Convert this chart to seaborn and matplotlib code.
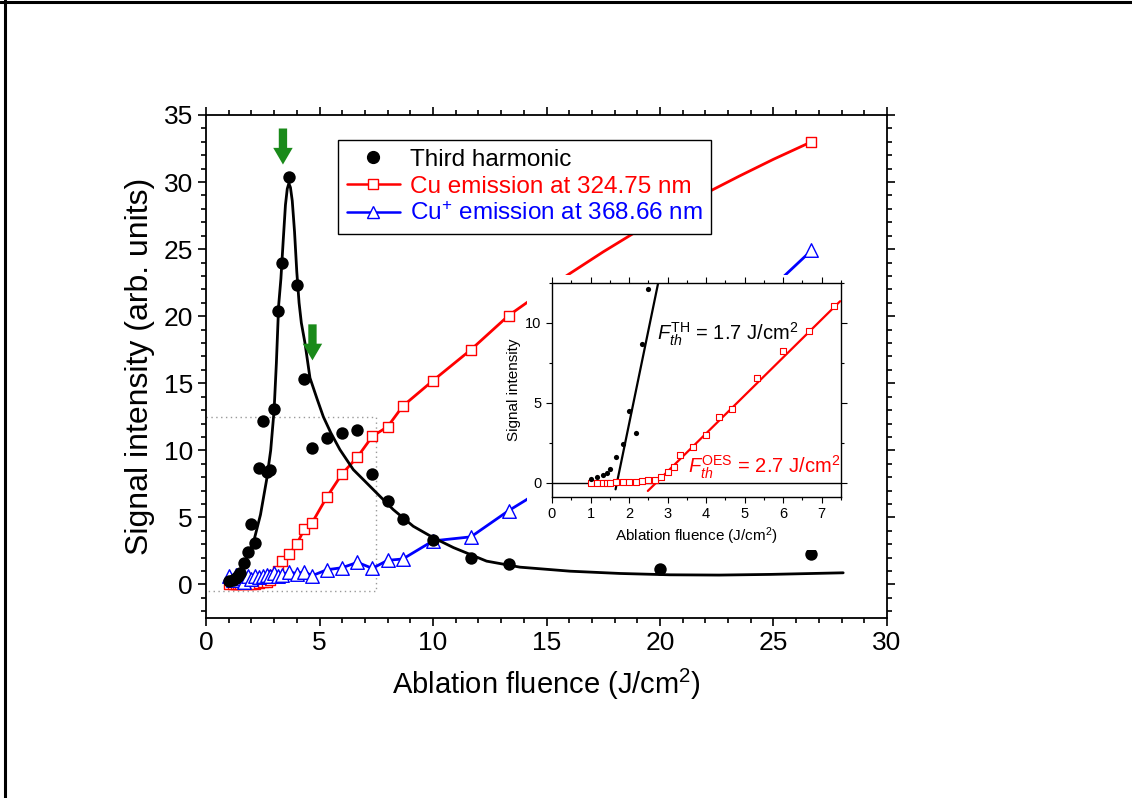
import numpy as np
import pandas as pd
import matplotlib
matplotlib.use('Agg')
import matplotlib.pyplot as plt
import seaborn as sns
from matplotlib.lines import Line2D
from matplotlib.patches import Rectangle
from matplotlib.ticker import MultipleLocator

sns.set_theme(style='ticks')
plt.rcParams['font.family'] = ['Liberation Sans', 'DejaVu Sans']
plt.rcParams['mathtext.fontset'] = 'custom'
plt.rcParams['mathtext.rm'] = 'Liberation Sans'
plt.rcParams['mathtext.it'] = 'Liberation Sans:italic'
plt.rcParams['mathtext.bf'] = 'Liberation Sans:bold'

# ---------------- data ----------------
# Third harmonic (black dots)
th_x = [1.0, 1.17, 1.33, 1.42, 1.5, 1.67, 1.83, 2.0, 2.17, 2.33, 2.5, 2.67, 2.83,
        3.0, 3.17, 3.33, 3.67, 4.0, 4.33, 4.67, 5.33, 6.0, 6.67, 7.33, 8.0, 8.67,
        10.0, 11.67, 13.33, 20.0, 26.67]
th_y = [0.23, 0.36, 0.5, 0.61, 0.84, 1.6, 2.4, 4.5, 3.1, 8.65, 12.15, 8.4, 8.56,
        13.05, 20.4, 24.0, 30.4, 22.3, 15.3, 10.2, 10.95, 11.27, 11.5, 8.27, 6.2, 4.9,
        3.3, 1.98, 1.54, 1.17, 2.26]

# fit curve through third harmonic
fit_x = [0.93, 1.2, 1.5, 1.8, 2.1, 2.4, 2.67, 2.85, 3.0, 3.1, 3.2, 3.3, 3.4, 3.5,
         3.58, 3.65, 3.72, 3.8, 3.9, 4.0, 4.1, 4.2, 4.36, 4.58, 4.9, 5.17, 5.5, 5.9,
         6.49, 7.0, 7.37, 8.25, 9.13, 10.0, 10.9, 12.36, 13.83, 16.04, 18.24, 20.44,
         22.6, 24.85, 28.07]
fit_y = [-0.1, 0.4, 1.1, 2.0, 3.2, 5.2, 7.8, 10.0, 13.0, 16.5, 20.8, 22.8, 25.6, 28.3,
         29.5, 29.9, 29.6, 28.6, 26.3, 23.3, 21.0, 19.5, 18.0, 15.4, 13.8, 12.5, 11.3,
         10.05, 8.56, 7.7, 7.07, 5.58, 4.34, 3.5, 2.75, 1.74, 1.29, 0.99, 0.82, 0.72,
         0.70, 0.75, 0.87]

# Cu emission at 324.75 nm (red squares)
cu_x = [1.0, 1.17, 1.33, 1.42, 1.5, 1.67, 1.83, 2.0, 2.17, 2.33, 2.5, 2.67, 2.83,
        3.0, 3.17, 3.33, 3.67, 4.0, 4.33, 4.67, 5.33, 6.0, 6.67, 7.33, 8.0, 8.67,
        10.0, 11.67, 13.33, 26.67]
cu_y = [0.0, 0.0, 0.0, 0.0, 0.0, 0.02, 0.04, 0.06, 0.06, 0.08, 0.15, 0.19, 0.36,
        0.69, 1.0, 1.76, 2.26, 3.0, 4.13, 4.59, 6.54, 8.26, 9.5, 11.05, 11.76, 13.3,
        15.2, 17.5, 20.05, 33.0]
# connecting curve between the last markers
cu_curve_x = [13.33, 14.5, 16.0, 17.5, 19.0, 20.5, 22.0, 23.5, 25.0, 26.67]
cu_curve_y = [20.05, 21.45, 23.15, 24.8, 26.35, 27.8, 29.15, 30.45, 31.7, 33.0]

# Cu+ emission at 368.66 nm (blue triangles)
cup_x = cu_x
cup_y = [0.6, 0.3, 0.7, 0.5, 0.6, 0.2, 0.65, 0.4, 0.6, 0.55, 0.6, 0.7, 0.6, 0.85,
         0.6, 0.7, 0.95, 0.8, 0.95, 0.65, 1.1, 1.25, 1.65, 1.2, 1.8, 1.9, 3.25, 3.55,
         5.5, 24.9]
cup_curve_x = [13.33, 14.1, 16.0, 18.0, 20.0, 22.0, 24.0, 25.6, 26.67]
cup_curve_y = [5.5, 6.3, 8.5, 11.2, 14.1, 17.2, 20.6, 23.2, 24.9]

# inset: threshold fits
inset_th_fit_x = [1.65, 2.757]
inset_th_fit_y = [-0.42, 12.52]
inset_cu_fit_x = [2.487, 7.478]
inset_cu_fit_y = [-0.52, 11.36]

legend_labels = ['Third harmonic', 'Cu emission at 324.75 nm',
                 'Cu$^{+}$ emission at 368.66 nm']

# ---------------- figure ----------------
W, H = 1132, 798
fig = plt.figure(figsize=(W / 100, H / 100), dpi=100)
fig.patch.set_facecolor('white')

ax = fig.add_axes([206 / W, (H - 618) / H, 681 / W, 503 / H])
ax.set_facecolor('white')

# dotted zoom box
ax.plot([0, 7.5, 7.5, 0], [12.5, 12.5, -0.5, -0.5], ls=(0, (1, 2.5)), color='#999999',
        lw=1.0, zorder=1)

# lines
sns.lineplot(x=fit_x, y=fit_y, ax=ax, color='black', lw=2.0, sort=False,
             estimator=None, zorder=3)
cu_lx = cu_x[:-1] + cu_curve_x[1:]
cu_ly = cu_y[:-1] + cu_curve_y[1:]
sns.lineplot(x=cu_lx, y=cu_ly, ax=ax, color='red', lw=2.0, sort=False,
             estimator=None, zorder=2)
cup_lx = cup_x[:-2] + cup_curve_x
cup_ly = cup_y[:-2] + cup_curve_y
sns.lineplot(x=cup_lx, y=cup_ly, ax=ax, color='blue', lw=2.0, sort=False,
             estimator=None, zorder=2)

# markers
sns.scatterplot(x=cu_x, y=cu_y, ax=ax, marker='s', s=60, facecolor='white',
                edgecolor='red', linewidth=1.0, zorder=4)
sns.scatterplot(x=cup_x, y=cup_y, ax=ax, marker='^', s=95, facecolor='white',
                edgecolor='blue', linewidth=1.0, zorder=4)
sns.scatterplot(x=th_x, y=th_y, ax=ax, marker='o', s=80, color='black',
                edgecolor='black', linewidth=0, zorder=5)

ax.set_xlim(0, 30)
ax.set_ylim(-2.5, 35)
ax.xaxis.set_major_locator(MultipleLocator(5))
ax.xaxis.set_minor_locator(MultipleLocator(1))
ax.yaxis.set_major_locator(MultipleLocator(5))
ax.yaxis.set_minor_locator(MultipleLocator(1))
ax.tick_params(which='both', direction='out', top=True, right=True,
               labelsize=19, colors='black', width=1.2)
ax.tick_params(which='major', length=6)
ax.tick_params(which='minor', length=3.5)
for sp in ax.spines.values():
    sp.set_visible(True)
    sp.set_color('black')
    sp.set_linewidth(1.3)
ax.set_xlabel('Ablation fluence (J/cm$^2$)', fontsize=21, color='black', labelpad=8)
ax.set_ylabel('Signal intensity (arb. units)', fontsize=23, color='black', labelpad=6)

# green arrows
for (xa, y0, y1) in [(3.39, 34.2, 31.1), (4.69, 19.6, 16.5)]:
    ax.annotate('', xy=(xa, y1), xytext=(xa, y0),
                arrowprops=dict(arrowstyle='simple,head_length=0.6,head_width=0.7,tail_width=0.3',
                                color='#1a8a1a', lw=0, mutation_scale=20),
                zorder=6)

# legend
handles = [Line2D([], [], color='black', marker='o', ls='none', markersize=8.5),
           Line2D([], [], color='red', marker='s', mfc='white', mec='red', lw=1.8,
                  markersize=6.5),
           Line2D([], [], color='blue', marker='^', mfc='white', mec='blue', lw=1.8,
                  markersize=8)]
leg = ax.legend(handles, legend_labels, loc='upper left', bbox_to_anchor=(0.194, 0.950),
                borderaxespad=0, fontsize=17.5, labelcolor=['black', 'red', 'blue'],
                fancybox=False, framealpha=1, edgecolor='black', handlelength=2.2,
                handletextpad=0.4, labelspacing=0.2, borderpad=0.35)
leg.get_frame().set_linewidth(1.0)
leg.set_zorder(10)

# white background behind inset (covers inset labels area)
ax.add_patch(Rectangle((527 / W, (H - 550) / H), 328 / W, 275 / H,
                       transform=fig.transFigure, facecolor='white', edgecolor='none',
                       zorder=8, clip_on=False))

# ---------------- inset ----------------
axi = fig.add_axes([552 / W, (H - 497) / H, 289 / W, 214 / H])
axi.set_facecolor('white')
axi.axhline(0, color='black', lw=1.0, zorder=1)
sns.lineplot(x=inset_th_fit_x, y=inset_th_fit_y, ax=axi, color='black', lw=1.6,
             sort=False, estimator=None, zorder=3)
sns.lineplot(x=inset_cu_fit_x, y=inset_cu_fit_y, ax=axi, color='red', lw=1.6,
             sort=False, estimator=None, zorder=3)
in_th_x = th_x[:11]
in_th_y = th_y[:11]
in_cu_x = cu_x[:24]
in_cu_y = cu_y[:24]
sns.scatterplot(x=in_cu_x, y=in_cu_y, ax=axi, marker='s', s=14, facecolor='white',
                edgecolor='red', linewidth=0.8, zorder=4)
sns.scatterplot(x=in_th_x, y=in_th_y, ax=axi, marker='o', s=14, color='black',
                linewidth=0, zorder=4)
axi.set_xlim(0, 7.5)
axi.set_ylim(-0.9, 12.5)
axi.xaxis.set_major_locator(MultipleLocator(1))
axi.xaxis.set_minor_locator(MultipleLocator(0.5))
axi.yaxis.set_major_locator(MultipleLocator(5))
axi.yaxis.set_minor_locator(MultipleLocator(2.5))
axi.tick_params(which='both', direction='out', labelsize=10.5, colors='black', width=0.8)
axi.tick_params(which='both', top=True, right=True)
axi.tick_params(which='major', length=4)
axi.tick_params(which='minor', length=2.5)
for sp in axi.spines.values():
    sp.set_visible(True)
    sp.set_color('black')
    sp.set_linewidth(1.0)
axi.set_xlabel('Ablation fluence (J/cm$^2$)', fontsize=11, color='black', labelpad=3)
axi.set_ylabel('Signal intensity', fontsize=11, color='black', labelpad=3)
axi.text(2.73, 8.9, r'$F_{th}^{\mathrm{TH}}$ = 1.7 J/cm$^2$', fontsize=14.5, color='black',
         va='baseline', ha='left')
axi.text(3.54, 0.6, r'$F_{th}^{\mathrm{OES}}$ = 2.7 J/cm$^2$', fontsize=14.5, color='red',
         va='baseline', ha='left')

# figure frame lines (top and left)
fig.add_artist(Line2D([0, 1], [1 - 2 / H, 1 - 2 / H], transform=fig.transFigure,
                      color='black', lw=2.2))
fig.add_artist(Line2D([5 / W, 5 / W], [0, 1], transform=fig.transFigure,
                      color='black', lw=2.2))

fig.savefig('out.png', dpi=100, facecolor='white')
